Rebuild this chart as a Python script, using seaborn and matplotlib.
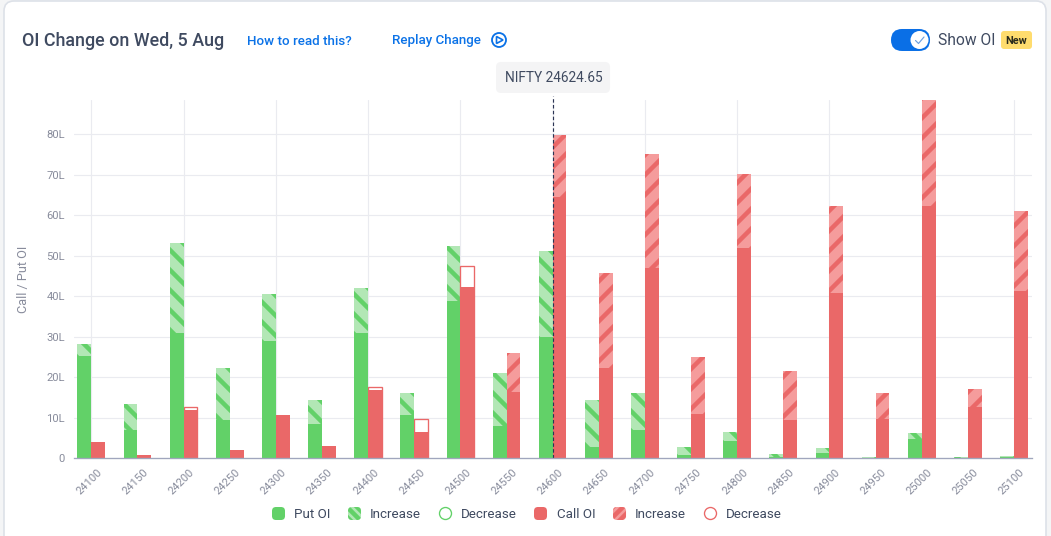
import pandas as pd
import seaborn as sns
import matplotlib.pyplot as plt
from matplotlib.patches import Circle, FancyBboxPatch, Polygon
from matplotlib.transforms import ScaledTranslation

# values are in lakh
strikes = [24100, 24150, 24200, 24250, 24300, 24350, 24400, 24450, 24500, 24550, 24600,
           24650, 24700, 24750, 24800, 24850, 24900, 24950, 25000, 25050, 25100]
put_oi = [25.3, 7.0, 31.0, 9.5, 29.0, 8.5, 31.0, 10.6, 38.8, 8.0, 30.0,
          2.9, 7.0, 0.8, 4.2, 0.3, 1.4, 0.1, 4.8, 0.1, 0.2]
put_prev = [28.2, 13.5, 53.2, 22.2, 40.5, 14.3, 42.1, 16.0, 52.4, 21.0, 51.3,
            14.3, 16.2, 2.9, 6.4, 1.1, 2.5, 0.3, 6.2, 0.4, 0.6]
call_oi = [4.0, 0.8, 12.0, 2.1, 10.7, 3.0, 16.8, 6.5, 42.4, 16.3, 64.4,
           22.4, 47.0, 11.0, 52.0, 9.4, 40.7, 9.8, 62.3, 12.6, 41.2]
call_top = [4.0, 0.8, 12.7, 2.1, 10.7, 3.0, 17.6, 9.8, 47.4, 26.1, 79.8,
            45.7, 75.2, 25.0, 70.3, 21.6, 62.3, 16.2, 90.0, 17.2, 61.0]
call_decrease = [24200, 24400, 24450, 24500]
y_ticks = [0, 10, 20, 30, 40, 50, 60, 70, 80]
y_labels = ["0", "10L", "20L", "30L", "40L", "50L", "60L", "70L", "80L"]
spot_strike = 24600
spot_label = "NIFTY 24624.65"

GREEN, GREEN_LIGHT = "#62d168", "#b2e7b5"
RED, RED_LIGHT = "#ea6868", "#f59c9c"
TEXT, MUTED, BLUE, GRID = "#3f4a60", "#888c9c", "#0b72e7", "#eaebf0"
DPI = 120


def px(size):
    """css pixels to points at our dpi"""
    return size * 72 / DPI


sns.set_theme(style="white", rc={"hatch.linewidth": 2.7})
plt.rcParams["font.family"] = ["Roboto", "DejaVu Sans"]

rows = []
for i, strike in enumerate(strikes):
    is_dec = strike in call_decrease
    rows.append({"strike": strike, "side": "Put", "oi": put_oi[i], "inc": put_prev[i], "dec": 0})
    rows.append({"strike": strike, "side": "Call", "oi": call_oi[i],
                 "inc": 0 if is_dec else call_top[i], "dec": call_top[i] if is_dec else 0})
df = pd.DataFrame(rows)

fig = plt.figure(figsize=(1051.01 / DPI, 536.01 / DPI), dpi=DPI, facecolor="#f4f5f6")

# page furniture lives in a pixel-space axes behind the chart
bg = fig.add_axes([0, 0, 1, 1], zorder=0)
bg.set_xlim(0, 1051)
bg.set_ylim(536, 0)
bg.axis("off")
bg.add_patch(FancyBboxPatch((4, 1), 1042, 560, boxstyle="round,pad=0,rounding_size=10",
                            fc="white", ec="#dde1e8", lw=1))
bg.text(22, 41, "OI Change on Wed, 5 Aug", fontsize=px(17.9), fontweight="medium", color=TEXT, va="center")
bg.text(247, 41, "How to read this?", fontsize=px(13.4), fontweight="medium", color=BLUE, va="center")
bg.text(392, 40.5, "Replay Change", fontsize=px(13.4), fontweight="medium", color=BLUE, va="center")
bg.add_patch(Circle((499, 40), 7, fc="none", ec=BLUE, lw=1.1))
bg.add_patch(Polygon([(496.5, 36.5), (496.5, 43.5), (503, 40)], closed=True, fc="none", ec=BLUE, lw=1))

bg.add_patch(FancyBboxPatch((891, 29), 39, 22, boxstyle="round,pad=0,rounding_size=11", fc="#0a6fe6", ec="none"))
bg.add_patch(Circle((919.5, 40), 9, fc="white", ec="none"))
bg.plot([915.5, 918.5, 924], [40.5, 43.5, 37], color="#6b9fe0", lw=0.7)
bg.text(938, 40.5, "Show OI", fontsize=px(15.6), color=TEXT, va="center")
bg.add_patch(FancyBboxPatch((1001, 31), 31, 18, boxstyle="round,pad=0,rounding_size=3", fc="#ffdc6e", ec="none"))
bg.text(1016.5, 40.5, "New", fontsize=px(11), fontweight="bold", color="#2a2a1c", va="center", ha="center")

bg.add_patch(FancyBboxPatch((496, 62), 114, 31, boxstyle="round,pad=0,rounding_size=5", fc="#f4f4f5", ec="none"))
bg.text(553.5, 78, spot_label, fontsize=px(13.6), color=TEXT, va="center", ha="center")

# legend
legend_items = [(278.5, 294, "Put OI", GREEN, GREEN, ""), (354.5, 370, "Increase", GREEN_LIGHT, GREEN, "\\\\\\\\"),
                (445.5, 461, "Decrease", "white", GREEN, None), (540.5, 557, "Call OI", RED, RED, ""),
                (619.5, 635, "Increase", RED_LIGHT, RED, "////"), (710.5, 726, "Decrease", "white", RED, None)]
for x_mark, x_text, label, face, edge, hatch in legend_items:
    if hatch is None:
        bg.add_patch(Circle((x_mark, 513.5), 6, fc=face, ec=edge, lw=0.8))
    else:
        bg.add_patch(FancyBboxPatch((x_mark - 6.5, 507), 13, 13, boxstyle="round,pad=0,rounding_size=4",
                                    fc=face, ec=edge, lw=0, hatch=hatch))
    bg.text(x_text, 514, label, fontsize=px(13.4), color=TEXT, va="center")

ax = fig.add_axes([74 / 1051, (536 - 458.3) / 536, 958 / 1051, 358.3 / 536], zorder=1)
ax.patch.set_alpha(0)

bar_args = dict(x="strike", hue="side", order=strikes, hue_order=["Put", "Call"], width=0.6, gap=0,
                errorbar=None, saturation=1, legend=False, ax=ax, linewidth=0)

# change layer first, the OI bar goes over it
sns.barplot(data=df, y="inc", palette={"Put": GREEN_LIGHT, "Call": RED_LIGHT}, zorder=2, **bar_args)
for container, edge, hatch in zip(ax.containers, [GREEN, RED], ["\\\\", "//"]):
    for bar in container:
        bar.set_edgecolor(edge)
        bar.set_hatch(hatch)
        bar.set_linewidth(0)

n_before = len(ax.containers)
sns.barplot(data=df, y="dec", palette={"Put": "white", "Call": "white"}, zorder=2, **bar_args)
for container in ax.containers[n_before:]:
    for bar in container:
        if bar.get_height() > 0:
            bar.set_edgecolor(RED)
            bar.set_linewidth(0.8)

sns.barplot(data=df, y="oi", palette={"Put": GREEN, "Call": RED}, zorder=3, **bar_args)

ax.set_xlim(-0.375, 20.39)
ax.set_ylim(0, 88.47)
sns.despine(ax=ax, left=True)
ax.spines["bottom"].set_color("#a0a6bd")
ax.spines["bottom"].set_linewidth(0.8)
ax.spines["bottom"].set_zorder(5)

ax.set_yticks(y_ticks)
ax.set_yticklabels(y_labels, fontsize=px(11.2), color=MUTED)
ax.set_xticks(range(len(strikes)))
ax.set_xticklabels(strikes, fontsize=px(11.3), color=MUTED, rotation=45, ha="right", rotation_mode="anchor")
ax.tick_params(axis="both", length=0)
ax.tick_params(axis="y", pad=px(9))
ax.tick_params(axis="x", pad=px(9))
# labels sit a little to the right of their strike
shift = ScaledTranslation(px(5.5) / 72, 0, fig.dpi_scale_trans)
for label in ax.get_xticklabels():
    label.set_transform(label.get_transform() + shift)
ax.set_xlabel("")
ax.set_ylabel("Call / Put OI", fontsize=px(12.8), color=MUTED, labelpad=px(16))

for y in y_ticks[1:]:
    ax.axhline(y, color=GRID, lw=0.7, zorder=1)
for i in range(0, len(strikes), 2):
    ax.axvline(i, color=GRID, lw=0.7, zorder=1)

spot = strikes.index(spot_strike)
ax.plot([spot, spot], [0, 89.5], color="#2c3554", lw=0.7, ls=(0, (3, 2)), zorder=4, clip_on=False)

fig.savefig("out.png", dpi=DPI)
